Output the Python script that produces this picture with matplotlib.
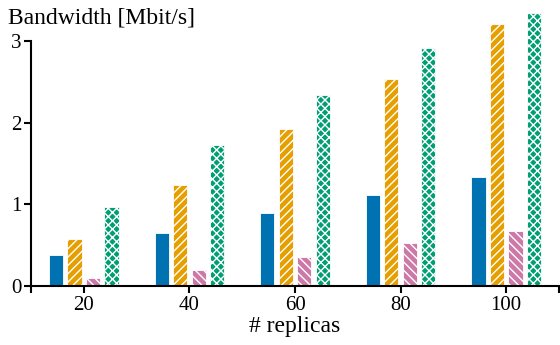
import matplotlib
matplotlib.use('Agg')
import matplotlib.pyplot as plt
import numpy as np

plt.rcParams['font.family'] = ['Liberation Serif', 'DejaVu Serif']
plt.rcParams['hatch.color'] = 'white'
plt.rcParams['hatch.linewidth'] = 1.0

# data
replicas = [20, 40, 60, 80, 100]
series_a = [0.38, 0.65, 0.89, 1.11, 1.33]   # blue, solid
series_b = [0.57, 1.24, 1.92, 2.54, 3.21]   # orange, ////
series_c = [0.10, 0.20, 0.35, 0.53, 0.67]   # pink, \\\\
series_d = [0.97, 1.73, 2.34, 2.91, 3.34]   # green, xxxx

colors = ['#0072B2', '#E69F00', '#CC79A7', '#009E73']
hatches = [None, '////', '\\\\\\\\', 'xxxx']
offsets = [-5.25, -1.75, 1.75, 5.25]
barw = 2.7
fsize_ticks = 15
fsize_labels = 17

fig = plt.figure(figsize=(5.6, 3.45), dpi=100)
ax = fig.add_axes([31/560, 59/345, 528/560, 245/345])

x = np.array(replicas, dtype=float)
for vals, col, h, off in zip([series_a, series_b, series_c, series_d],
                             colors, hatches, offsets):
    ax.bar(x + off, vals, width=barw, color=col, hatch=h,
           edgecolor='white', linewidth=0.6, clip_on=False, zorder=2)

ax.set_xlim(10, 110)
ax.set_ylim(0, 3)
ax.set_xticks([10, 20, 40, 60, 80, 100, 110])
ax.set_xticklabels(['', '20', '40', '60', '80', '100', ''])
ax.set_yticks([0, 1, 2, 3])
ax.spines['top'].set_visible(False)
ax.spines['right'].set_visible(False)
ax.spines['left'].set_linewidth(1.5)
ax.spines['bottom'].set_linewidth(1.5)
ax.tick_params(axis='both', labelsize=fsize_ticks, width=1.5, length=5, pad=2)
ax.set_xlabel('# replicas', fontsize=fsize_labels, labelpad=1)
fig.text(8/560, 1 - 18/345, 'Bandwidth [Mbit/s]', fontsize=fsize_labels,
         ha='left', va='center')

fig.savefig('out.png', dpi=100)
